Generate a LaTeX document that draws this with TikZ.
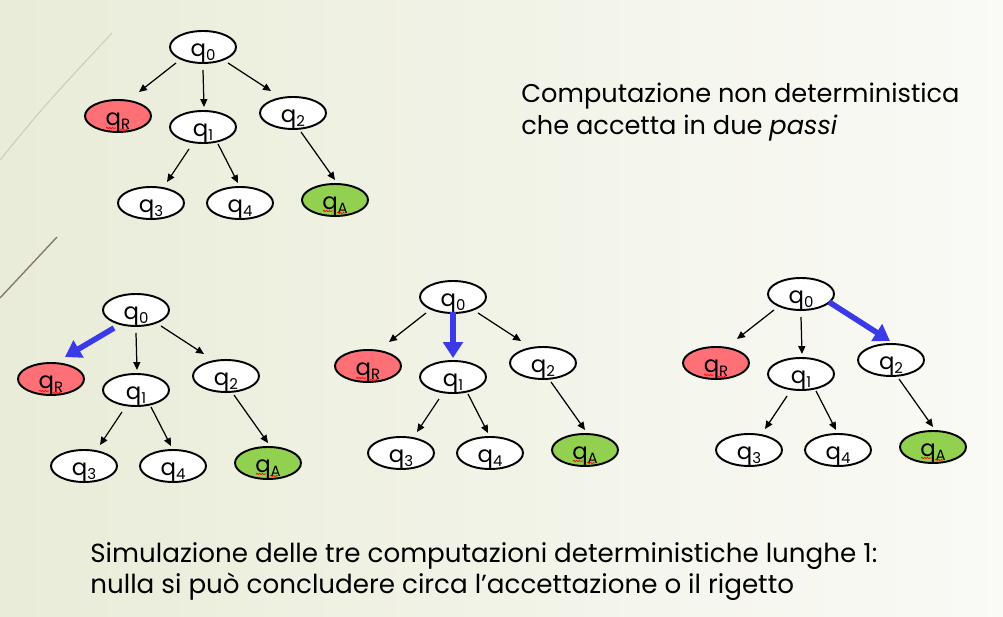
\documentclass[tikz,border=0pt]{standalone}
\usepackage{fontspec}
\setmainfont{Poppins}
\usetikzlibrary{arrows.meta,calc,shapes.geometric,decorations.pathmorphing}

\definecolor{bgL}{RGB}{233,236,216}
\definecolor{bgR}{RGB}{250,250,246}
\definecolor{rejfill}{RGB}{255,112,118}
\definecolor{accfill}{RGB}{146,208,80}
\definecolor{pathblue}{RGB}{58,58,232}
\definecolor{decoA}{RGB}{205,203,190}
\definecolor{decoB}{RGB}{135,125,105}

% state label: q with a lowered index
\newcommand\qsub[1]{q\raisebox{-0.35ex}{\fontsize{8.5}{8.5}\selectfont #1}}

\tikzset{
  st/.style={ellipse, draw=black, line width=1.1pt, fill=white,
    minimum width=1.32cm, minimum height=0.64cm, inner sep=0pt,
    text height=1.05em, text depth=0em,
    font=\fontsize{13}{13}\selectfont},
  rej/.style={fill=rejfill},
  acc/.style={fill=accfill},
  edge/.style={line width=0.7pt, -{Triangle[length=4.5pt,width=4pt]}},
  pick/.style={line width=3.2pt, pathblue, -{Triangle[length=9pt,width=11pt]}},
  spell/.style={red, line width=0.4pt, decorate,
    decoration={snake, amplitude=0.35pt, segment length=1.6pt}},
  caption/.style={anchor=north west, inner sep=0pt, align=left}
}

% computation tree: #1 name prefix, (#2,#3) root position,
% #4 root edge left out (1 = to qR, 2 = to q1, 3 = to q2, 0 = none)
\newcommand\comptree[4]{%
  \node[st] (#1q0) at (#2,#3) {\qsub{0}};
  \node[st,rej] (#1qR) at ({#2-85},{#3+69}) {\qsub{R}};
  \node[st] (#1q1) at ({#2},{#3+80}) {\qsub{1}};
  \node[st] (#1q2) at ({#2+90},{#3+66}) {\qsub{2}};
  \node[st] (#1q3) at ({#2-52},{#3+156}) {\qsub{3}};
  \node[st] (#1q4) at ({#2+37},{#3+156}) {\qsub{4}};
  \node[st,acc] (#1qA) at ({#2+132},{#3+153}) {\qsub{A}};
  \ifnum#4=1\else\draw[edge] ($(#1q0)+(-27,16)$) -- ($(#1qR)+(21,-24)$);\fi
  \ifnum#4=2\else\draw[edge] ($(#1q0)+(0,23)$) -- ($(#1q1)+(1,-20)$);\fi
  \ifnum#4=3\else\draw[edge] ($(#1q0)+(25,16)$) -- ($(#1q2)+(-22,-22)$);\fi
  \draw[edge] ($(#1q1)+(-14,22)$) -- ($(#1q3)+(16,-21)$);
  \draw[edge] ($(#1q1)+(15,17)$) -- ($(#1q4)+(-2,-20)$);
  \draw[edge] ($(#1q2)+(8,19)$) -- ($(#1qA)+(0,-20)$);
  \draw[spell] ($(#1qR)+(-12,12)$) -- ++(10,0);
  \draw[spell] ($(#1qR)+(2,14)$) -- ++(8,0);
  \draw[spell] ($(#1qA)+(-12,11)$) -- ++(10,0);
  \draw[spell] ($(#1qA)+(2,13)$) -- ++(8,0);
}

\begin{document}
\begin{tikzpicture}[x=0.02cm,y=-0.02cm]
  % slide background
  \shade[left color=bgL, right color=bgR] (0,0) rectangle (1003,617);
  \useasboundingbox (0,0) rectangle (1003,617);
  % decorative strokes on the left edge
  \draw[decoA, line width=0.6pt] (0,160) .. controls (45,105) .. (112,33);
  \draw[decoB, line width=0.8pt] (0,298) -- (57,237);

  \comptree{a}{203}{47}{0}
  \comptree{b}{136}{310}{1}
  \comptree{c}{453}{297}{2}
  \comptree{d}{801}{294}{3}

  % the deterministic step followed in each simulation
  \draw[pick] ($(bq0)+(-22,18)$) -- ($(bqR)+(14,-22)$);
  \draw[pick] ($(cq0)+(0,15)$) -- ($(cq1)+(0,-19)$);
  \draw[pick] ($(dq0)+(28,8)$) -- ($(dq2)+(-1,-19)$);

  \node[caption, font=\fontsize{14.6}{17.8}\selectfont] (top) at (521,83)
    {Computazione non deterministica\\che accetta in due \textit{passi}};
  \node[caption, font=\fontsize{14.9}{18}\selectfont] (bottom) at (90,542)
    {Simulazione delle tre computazioni deterministiche lunghe 1:\\nulla si può concludere circa l’accettazione o il rigetto};
\end{tikzpicture}
\end{document}
